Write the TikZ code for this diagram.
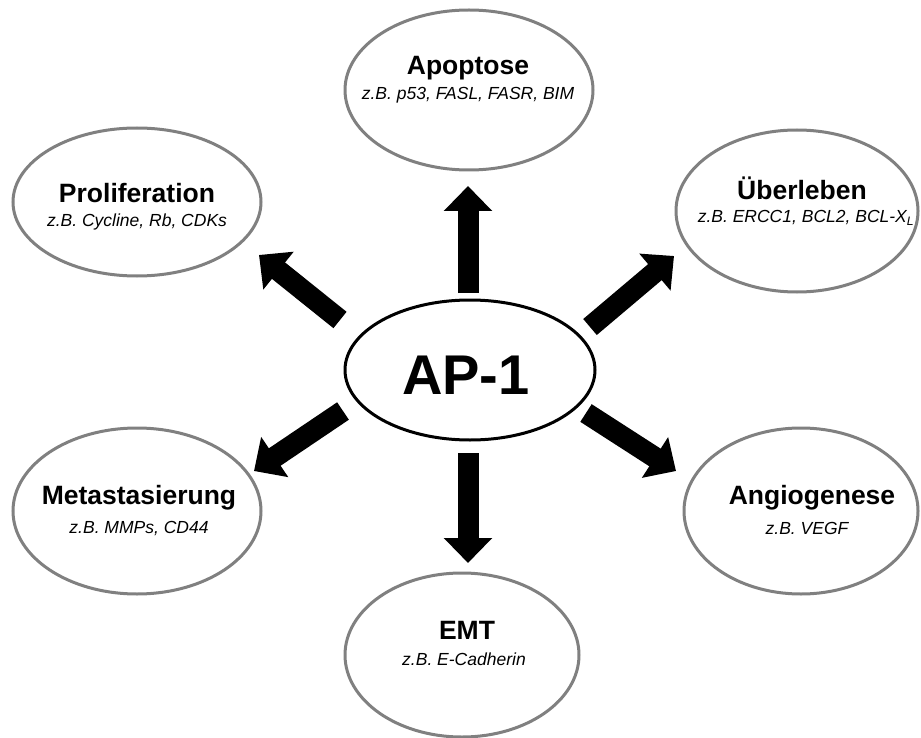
\documentclass[tikz,border=0pt]{standalone}
\usepackage{fontspec}
\setmainfont{Liberation Sans}
\usetikzlibrary{shapes.geometric,arrows.meta}
\definecolor{ringgray}{RGB}{128,128,128}
\begin{document}
\begin{tikzpicture}[x=1pt,y=-1pt,
  topic/.style={ellipse, draw=ringgray, line width=3pt, fill=white, inner sep=0pt},
  hub/.style={ellipse, draw=black, line width=3pt, fill=white, inner sep=0pt},
  ttl/.style={font=\fontsize{26.5}{30}\selectfont\bfseries, inner sep=0pt, anchor=base},
  ex/.style={font=\fontsize{17.5}{20}\selectfont\itshape, inner sep=0pt, anchor=base},
  bigarrow/.style={line width=21pt, -{Triangle[width=47pt,length=25pt]}}]
\useasboundingbox[fill=white] (0,0) rectangle (921,738);

% outer topics
\node[topic, minimum width=248pt, minimum height=160pt] (apo) at (469,90) {};
\node[ttl] (apoT) at (468,75) {Apoptose};
\node[ex]  (apoE) at (468,100) {z.B. p53, FASL, FASR, BIM};

\node[topic, minimum width=242pt, minimum height=162pt] (ueb) at (797,211) {};
\node[ttl] (uebT) at (802,200) {Überleben};
\node[ex]  (uebE) at (806,223) {z.B. ERCC1, BCL2, BCL-X\textsubscript{\itshape L}};

\node[topic, minimum width=248pt, minimum height=148pt] (pro) at (137,202) {};
\node[ttl] (proT) at (137,203) {Proliferation};
\node[ex]  (proE) at (137,226) {z.B. Cycline, Rb, CDKs};

\node[topic, minimum width=248pt, minimum height=166pt] (met) at (137,511) {};
\node[ttl] (metT) at (139,504) {Metastasierung};
\node[ex]  (metE) at (139,533) {z.B. MMPs, CD44};

\node[topic, minimum width=234pt, minimum height=166pt] (ang) at (801,511) {};
\node[ttl] (angT) at (812,504) {Angiogenese};
\node[ex]  (angE) at (807,534) {z.B. VEGF};

\node[topic, minimum width=234pt, minimum height=164pt] (emt) at (462,655) {};
\node[ttl] (emtT) at (467,639) {EMT};
\node[ex]  (emtE) at (464,665) {z.B. E-Cadherin};

% central factor
\node[hub, minimum width=250pt, minimum height=140pt] (ap1) at (470,370) {};
\node[font=\fontsize{56}{60}\selectfont\bfseries, inner sep=0pt, anchor=base] (ap1T) at (466,394) {AP-1};

% arrow ends
\coordinate (uT) at (468,293);  \coordinate (uH) at (468,186);
\coordinate (dT) at (468,453);  \coordinate (dH) at (468,563);
\coordinate (ulT) at (340,320); \coordinate (ulH) at (259,255);
\coordinate (urT) at (590,327); \coordinate (urH) at (674,256);
\coordinate (llT) at (343,411); \coordinate (llH) at (254,471);
\coordinate (lrT) at (586,413); \coordinate (lrH) at (676,471);

\draw[bigarrow] (uT) -- (uH);
\draw[bigarrow] (dT) -- (dH);
\draw[bigarrow] (ulT) -- (ulH);
\draw[bigarrow] (urT) -- (urH);
\draw[bigarrow] (llT) -- (llH);
\draw[bigarrow] (lrT) -- (lrH);
\end{tikzpicture}
\end{document}
